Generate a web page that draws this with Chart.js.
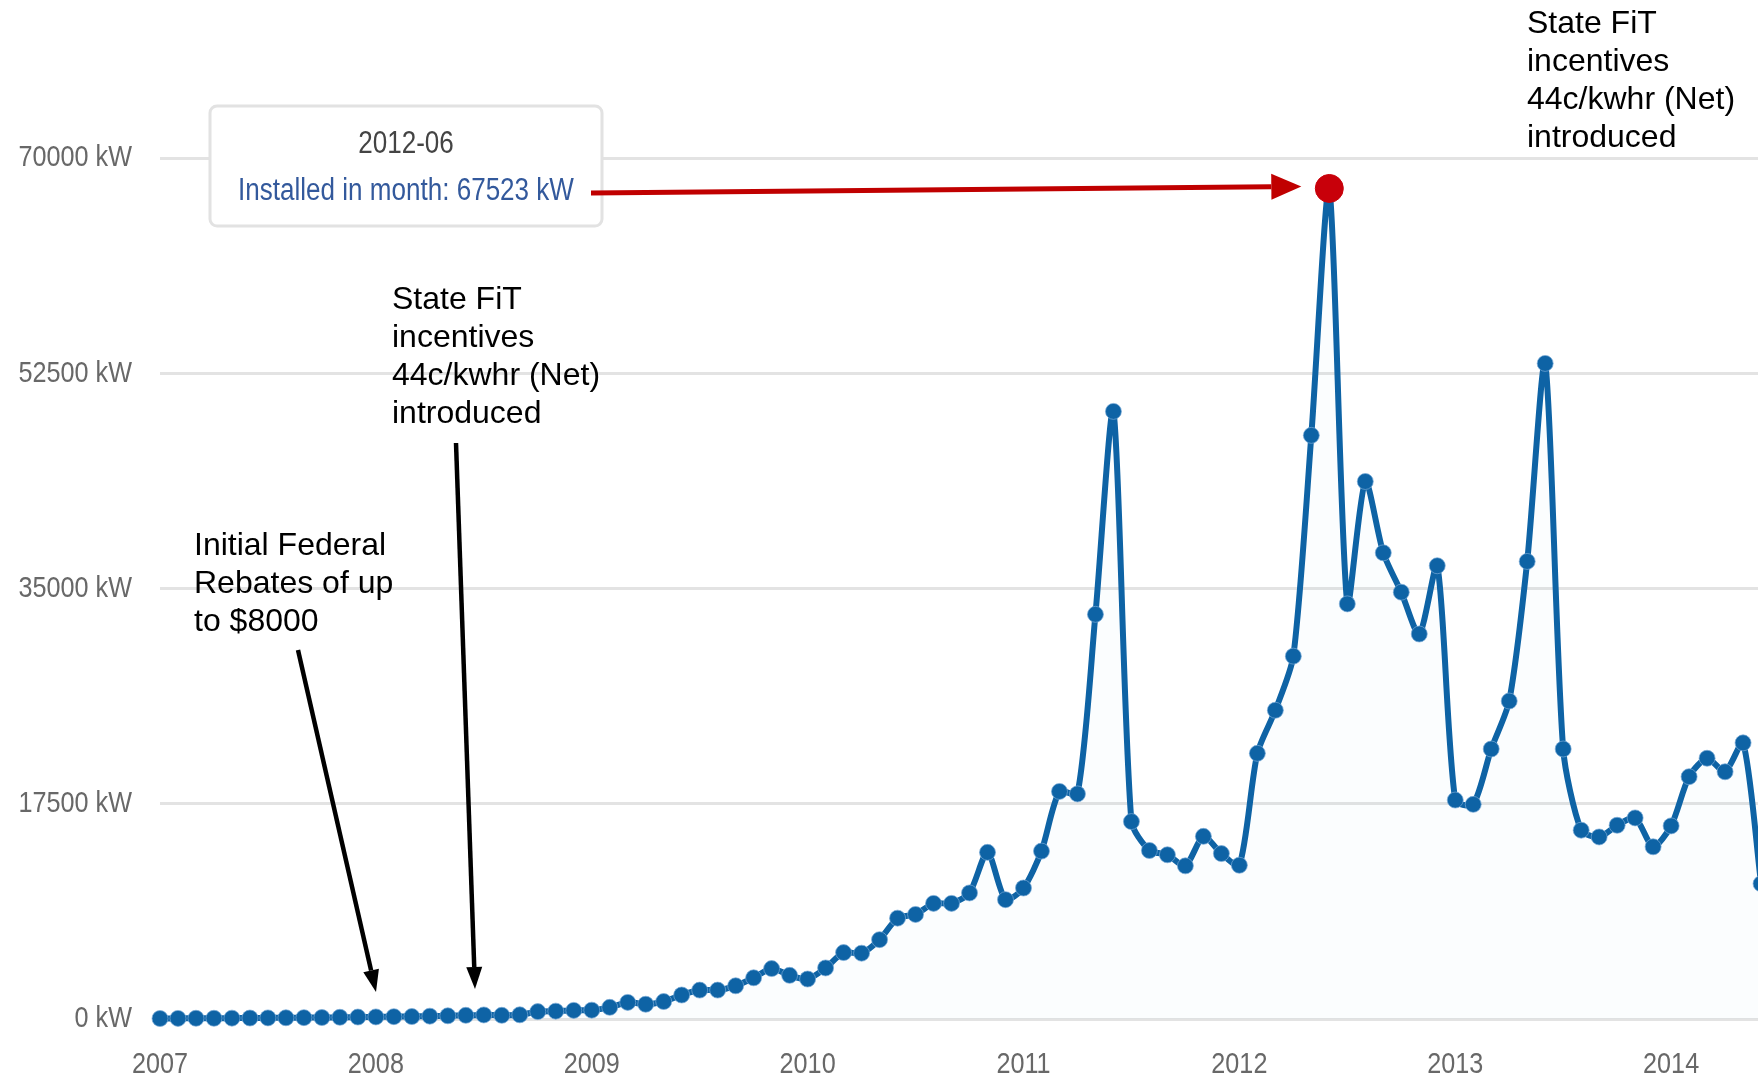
<!DOCTYPE html>
<html>
<head>
<meta charset="utf-8">
<title>Installed in month</title>
<script src="https://cdn.jsdelivr.net/npm/chart.js@4.4.1/dist/chart.umd.min.js"></script>
<style>
  html, body { margin: 0; padding: 0; background: #fff; overflow: hidden; }
  #wrap { width: 1758px; height: 1079px; }
</style>
</head>
<body>
<div id="wrap"><canvas id="pvChart" width="1758" height="1079"></canvas></div>
<script>
// kW installed per month, starting January 2007
const startYear = 2007;
const kw2007 = [40, 50, 60, 60, 70, 80, 90, 100, 110, 120, 140, 160];
const kw2008 = [170, 190, 200, 230, 260, 300, 330, 300, 340, 600, 640, 700];
const kw2009 = [720, 950, 1350, 1200, 1420, 1950, 2350, 2350, 2700, 3350, 4100, 3550];
const kw2010 = [3250, 4150, 5400, 5350, 6450, 8200, 8500, 9400, 9400, 10250, 13550, 9700];
const kw2011 = [10650, 13650, 18500, 18300, 32900, 49400, 16050, 13700, 13350, 12450, 14850, 13450];
const kw2012 = [12500, 21600, 25100, 29500, 47450, 67523, 33750, 43700, 37900, 34700, 31300, 36850];
const kw2013 = [17800, 17450, 21950, 25850, 37200, 53300, 21950, 15350, 14800, 15750, 16350, 14000];
const kw2014 = [15700, 19700, 21200, 20100, 22450, 11000];

const monthlyKw = [].concat(kw2007, kw2008, kw2009, kw2010, kw2011, kw2012, kw2013, kw2014);
const yearLabels = [2007, 2008, 2009, 2010, 2011, 2012, 2013, 2014];
const kwTicks = [0, 17500, 35000, 52500, 70000];

// month highlighted with the callout box
const peakIdx = monthlyKw.indexOf(Math.max(...monthlyKw));

const points = monthlyKw.map((v, i) => ({ x: i, y: v }));

function monthLabel(i) {
  const y = startYear + Math.floor(i / 12);
  const m = (i % 12) + 1;
  return y + '-' + (m < 10 ? '0' + m : m);
}

const blue = '#0e63a5';
const axisFamily = "'Liberation Sans', Arial, sans-serif";
const squeeze = 0.84; // axis text is drawn condensed
const noteFont = "32px 'Liberation Sans', Arial, sans-serif";

const notes = [
  { x: 194, y: 546, lines: ['Initial Federal', 'Rebates of up', 'to $8000'] },
  { x: 392, y: 300, lines: ['State FiT', 'incentives', '44c/kwhr (Net)', 'introduced'] },
  { x: 1527, y: 24, lines: ['State FiT', 'incentives', '44c/kwhr (Net)', 'introduced'] }
];
const pointers = [
  { from: [298, 650], to: [376, 992] },
  { from: [456, 443], to: [475, 989] }
];

function narrowText(ctx, text, x, y, align, font, color) {
  ctx.save();
  ctx.translate(x, y);
  ctx.scale(squeeze, 1);
  ctx.font = font;
  ctx.fillStyle = color;
  ctx.textAlign = align;
  ctx.textBaseline = 'middle';
  ctx.fillText(text, 0, 0);
  ctx.restore();
}

function arrow(ctx, x1, y1, x2, y2, color, width, headLen, headW) {
  const a = Math.atan2(y2 - y1, x2 - x1);
  const bx = x2 - Math.cos(a) * headLen;
  const by = y2 - Math.sin(a) * headLen;
  ctx.save();
  ctx.strokeStyle = color;
  ctx.fillStyle = color;
  ctx.lineWidth = width;
  ctx.beginPath();
  ctx.moveTo(x1, y1);
  ctx.lineTo(bx, by);
  ctx.stroke();
  ctx.beginPath();
  ctx.moveTo(x2, y2);
  ctx.lineTo(bx + Math.sin(a) * headW / 2, by - Math.cos(a) * headW / 2);
  ctx.lineTo(bx - Math.sin(a) * headW / 2, by + Math.cos(a) * headW / 2);
  ctx.closePath();
  ctx.fill();
  ctx.restore();
}

// tick labels in a condensed face
const axisLabels = {
  id: 'axisLabels',
  afterDraw(chart) {
    const ctx = chart.ctx;
    const xs = chart.scales.x, ys = chart.scales.y;
    const f = '30px ' + axisFamily;
    ys.ticks.forEach(t => {
      narrowText(ctx, t.value + ' kW', xs.left - 28, ys.getPixelForValue(t.value), 'right', f, '#686868');
    });
    xs.ticks.forEach(t => {
      narrowText(ctx, String(startYear + t.value / 12), xs.getPixelForValue(t.value), ys.bottom + 46, 'center', f, '#686868');
    });
  }
};

const annotations = {
  id: 'annotations',
  afterDraw(chart) {
    const ctx = chart.ctx;
    const xs = chart.scales.x, ys = chart.scales.y;

    // callout box for the peak month
    const bx = 210, by = 106, bw = 392, bh = 120;
    ctx.save();
    ctx.fillStyle = '#fff';
    ctx.strokeStyle = '#e2e2e2';
    ctx.lineWidth = 3;
    ctx.beginPath();
    ctx.roundRect(bx, by, bw, bh, 7);
    ctx.fill();
    ctx.stroke();
    ctx.restore();
    const f = '31px ' + axisFamily;
    narrowText(ctx, monthLabel(peakIdx), bx + bw / 2, 144, 'center', f, '#444');
    narrowText(ctx, 'Installed in month: ' + monthlyKw[peakIdx] + ' kW', bx + bw / 2, 191, 'center', f, '#33599c');

    const px = xs.getPixelForValue(peakIdx);
    const py = ys.getPixelForValue(monthlyKw[peakIdx]);
    arrow(ctx, bx + bw - 11, 193, px - 28, py - 2, '#c00000', 5, 30, 26);

    pointers.forEach(p => arrow(ctx, p.from[0], p.from[1], p.to[0], p.to[1], '#000', 4.5, 22, 16));

    ctx.save();
    ctx.font = noteFont;
    ctx.fillStyle = '#000';
    ctx.textAlign = 'left';
    ctx.textBaseline = 'middle';
    notes.forEach(n => n.lines.forEach((t, k) => ctx.fillText(t, n.x, n.y + k * 38.2)));
    ctx.restore();
  }
};

new Chart(document.getElementById('pvChart'), {
  type: 'line',
  data: {
    datasets: [{
      label: 'Installed in month',
      data: points,
      borderColor: blue,
      borderWidth: 6,
      tension: 0.25,
      fill: 'origin',
      backgroundColor: 'rgba(14, 99, 165, 0.014)',
      clip: false,
      pointRadius: c => c.dataIndex === peakIdx ? 14 : 8,
      pointBackgroundColor: c => c.dataIndex === peakIdx ? '#c8000a' : blue,
      pointBorderColor: c => c.dataIndex === peakIdx ? '#c8000a' : 'rgba(120, 170, 215, 0.7)',
      pointBorderWidth: 1
    }]
  },
  options: {
    responsive: false,
    animation: false,
    devicePixelRatio: 1,
    layout: { autoPadding: false, padding: { top: 158, right: 0, bottom: 0, left: 0 } },
    plugins: { legend: { display: false }, tooltip: { enabled: false } },
    scales: {
      x: {
        type: 'linear',
        min: 0,
        max: 88.83,
        grid: { display: false },
        border: { display: false },
        afterBuildTicks: s => { s.ticks = yearLabels.map((y, i) => ({ value: i * 12 })); },
        afterFit: s => { s.height = 60; },
        ticks: { display: false }
      },
      y: {
        min: 0,
        max: 70000,
        grid: { color: '#e3e3e3', lineWidth: 3, drawTicks: false },
        border: { display: false },
        afterBuildTicks: s => { s.ticks = kwTicks.map(v => ({ value: v })); },
        afterFit: s => { s.width = 160; },
        ticks: { display: false }
      }
    }
  },
  plugins: [axisLabels, annotations]
});
</script>
</body>
</html>
